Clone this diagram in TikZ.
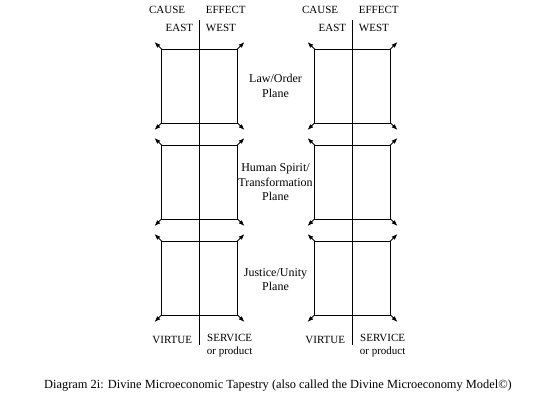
\documentclass[tikz,border=0pt]{standalone}
\usepackage{fontspec}
\setmainfont{Liberation Serif}
\usetikzlibrary{arrows.meta}

\tikzset{
  axislbl/.style={font=\fontsize{11}{13}\selectfont,inner sep=0pt},
  planelbl/.style={font=\fontsize{12}{14.5}\selectfont,align=center,inner sep=0pt},
}

\begin{document}
\begin{tikzpicture}[x=1pt,y=-1pt,line width=0.8pt,>={Latex[length=6pt,width=4.5pt]}]
	\useasboundingbox (0,0) rectangle (560,400);
	\foreach \c/\n in {199.5/a,352.5/b} {
		\coordinate (top\n) at (\c,20);
		\coordinate (bot\n) at (\c,345);
		\draw (top\n) -- (bot\n);
		% the three planes
		\foreach \t in {49,145,241} {
			\coordinate (nw) at (\c-38,\t);
			\coordinate (se) at (\c+38,\t+74);
			\draw (nw) rectangle (se);
			\draw[->] (nw) -- ++(-7,-7);
			\draw[->] (nw -| se) -- ++(7,-7);
			\draw[->] (se -| nw) -- ++(-7,7);
			\draw[->] (se) -- ++(7,7);
		}
		\node[axislbl,anchor=east] (cause\n) at (\c-14,10) {CAUSE};
		\node[axislbl,anchor=west] (effect\n) at (\c+6,10) {EFFECT};
		\node[axislbl,anchor=east] (east\n) at (\c-6,28) {EAST};
		\node[axislbl,anchor=west] (west\n) at (\c+6,28) {WEST};
		\node[axislbl,anchor=east] (virtue\n) at (\c-7,340) {VIRTUE};
		\node[axislbl,anchor=north west,align=center] (service\n) at (\c+7,334) {SERVICE\\or product};
	}
	\node[planelbl] (law) at (275.5,86) {Law/Order\\Plane};
	\node[planelbl] (spirit) at (275.5,182.5) {Human Spirit/\\Transformation\\Plane};
	\node[planelbl] (justice) at (275.5,279.5) {Justice/Unity\\Plane};
	\node[font=\fontsize{12.4}{14}\selectfont,inner sep=0pt] (caption) at (278,386)
		{Diagram 2i: Divine Microeconomic Tapestry (also called the Divine Microeconomy Model\textcopyright)};
\end{tikzpicture}
\end{document}
